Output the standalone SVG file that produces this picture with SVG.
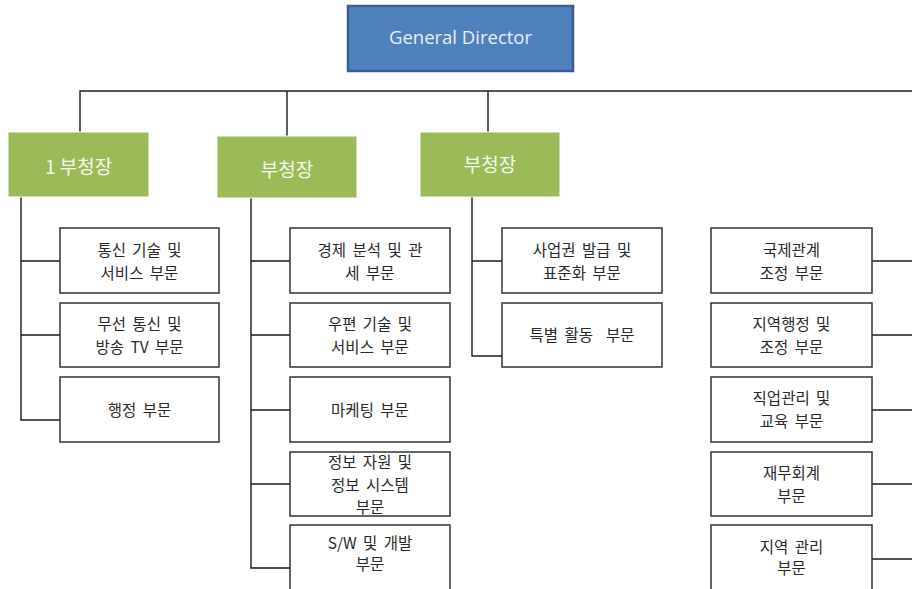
<svg xmlns="http://www.w3.org/2000/svg" width="912" height="589" viewBox="0 0 912 589">
<style>
.conn{fill:none;stroke:#1a1a1a;stroke-width:1.4}
.gd{fill:#4F81BD;stroke:#385D8A;stroke-width:2.5}
.gdt{font-family:"Open Sans","Liberation Sans",sans-serif;font-size:18.5px;fill:#E6EEF8;text-anchor:middle}
.vp{fill:#9BBB59;stroke:#FFFFFF;stroke-width:1}
.vpt{font-family:"Noto Sans CJK KR","Noto Sans",sans-serif;font-size:19px;fill:#F4F8EC;text-anchor:middle}
.dept{fill:#FFFFFF;stroke:#333333;stroke-width:1.5}
.dt{font-family:"Noto Sans CJK KR","Noto Sans",sans-serif;font-size:15.5px;fill:#2a2a2a;text-anchor:middle;word-spacing:3px}
.pre{white-space:pre}
</style>
<rect width="912" height="589" fill="#FFFFFF"/>
<g id="connectors">
<path class="conn" d="M80,132 V91 H912"/>
<path class="conn" d="M287,91 V136"/>
<path class="conn" d="M488,91 V132"/>
<path class="conn" d="M21,197 V420 H60 M21,261 H60 M21,335 H60"/>
<path class="conn" d="M251,198 V568 H290 M251,261 H290 M251,335 H290 M251,410 H290 M251,484 H290"/>
<path class="conn" d="M472,197 V356 H502 M472,261 H502"/>
<path class="conn" d="M872,261 H912 M872,335 H912 M872,410 H912 M872,484 H912 M872,559 H912"/>
</g>
<g id="general-director">
<rect class="gd" x="348" y="6" width="225" height="65"/>
<text class="gdt" x="460.5" y="44">General Director</text>
</g>
<g id="vp1">
<rect class="vp" x="8" y="132" width="141" height="65"/>
<text class="vpt" x="78.5" y="174">1 부청장</text>
</g>
<g id="vp2">
<rect class="vp" x="217" y="136" width="140" height="62"/>
<text class="vpt" x="287" y="177">부청장</text>
</g>
<g id="vp3">
<rect class="vp" x="420" y="132" width="140" height="65"/>
<text class="vpt" x="490" y="172">부청장</text>
</g>
<g id="d1-1"><rect class="dept" x="60" y="228" width="159" height="65"/><text class="dt" x="139.5" y="256">통신 기술 및</text><text class="dt" x="139.5" y="279">서비스 부문</text></g>
<g id="d1-2"><rect class="dept" x="60" y="303" width="159" height="64"/><text class="dt" x="139.5" y="330">무선 통신 및</text><text class="dt" x="139.5" y="353">방송 TV 부문</text></g>
<g id="d1-3"><rect class="dept" x="60" y="377" width="159" height="65"/><text class="dt" x="139.5" y="416">행정 부문</text></g>
<g id="d2-1"><rect class="dept" x="290" y="228" width="160" height="65"/><text class="dt" x="370" y="256">경제 분석 및 관</text><text class="dt" x="370" y="279">세 부문</text></g>
<g id="d2-2"><rect class="dept" x="290" y="303" width="160" height="64"/><text class="dt" x="370" y="330">우편 기술 및</text><text class="dt" x="370" y="353">서비스 부문</text></g>
<g id="d2-3"><rect class="dept" x="290" y="377" width="160" height="65"/><text class="dt" x="370" y="416">마케팅 부문</text></g>
<g id="d2-4"><rect class="dept" x="290" y="452" width="160" height="64"/><text class="dt" x="370" y="468">정보 자원 및</text><text class="dt" x="370" y="491">정보 시스템</text><text class="dt" x="370" y="513">부문</text></g>
<g id="d2-5"><rect class="dept" x="290" y="525" width="160" height="70"/><text class="dt" x="370" y="549">S/W 및 개발</text><text class="dt" x="370" y="570">부문</text></g>
<g id="d3-1"><rect class="dept" x="502" y="228" width="160" height="65"/><text class="dt" x="582" y="256">사업권 발급 및</text><text class="dt" x="582" y="279">표준화 부문</text></g>
<g id="d3-2"><rect class="dept" x="502" y="303" width="160" height="64"/><text class="dt pre" x="582" y="341">특별 활동  부문</text></g>
<g id="d4-1"><rect class="dept" x="711" y="228" width="161" height="65"/><text class="dt" x="791.5" y="256">국제관계</text><text class="dt" x="791.5" y="279">조정 부문</text></g>
<g id="d4-2"><rect class="dept" x="711" y="303" width="161" height="64"/><text class="dt" x="791.5" y="330">지역행정 및</text><text class="dt" x="791.5" y="353">조정 부문</text></g>
<g id="d4-3"><rect class="dept" x="711" y="377" width="161" height="65"/><text class="dt" x="791.5" y="404">직업관리 및</text><text class="dt" x="791.5" y="427">교육 부문</text></g>
<g id="d4-4"><rect class="dept" x="711" y="452" width="161" height="64"/><text class="dt" x="791.5" y="479">재무회계</text><text class="dt" x="791.5" y="502">부문</text></g>
<g id="d4-5"><rect class="dept" x="711" y="525" width="161" height="70"/><text class="dt" x="791.5" y="553">지역 관리</text><text class="dt" x="791.5" y="574">부문</text></g>
</svg>
